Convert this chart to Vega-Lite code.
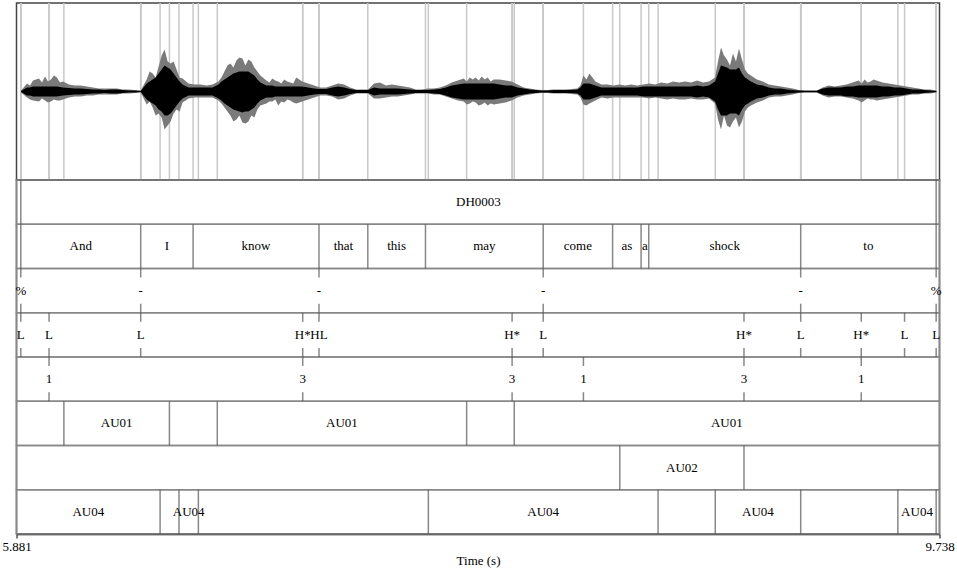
{
"$schema": "https://vega.github.io/schema/vega-lite/v6.json",
"padding": {"left": 0.5, "top": 1, "right": 0, "bottom": 0},
"spacing": 0,
"bounds": "flush",
"background": "white",
"config": {"view": {"stroke": null}, "font": "Liberation Serif", "text": {"font": "Liberation Serif", "fontSize": 13, "color": "#000"}},
"datasets": {
"tiers": [{"tier":"Utterance"},{"tier":"Words"},{"tier":"Breaks"},{"tier":"Tones"},{"tier":"Prominence"},{"tier":"AU01"},{"tier":"AU02"},{"tier":"AU04"}],
"intervals": [
{"tier":"Utterance","s":5.881,"e":5.899,"label":""},
{"tier":"Utterance","s":5.899,"e":9.724,"label":"DH0003"},
{"tier":"Utterance","s":9.724,"e":9.738,"label":""},
{"tier":"Words","s":5.881,"e":5.899,"label":""},
{"tier":"Words","s":5.899,"e":6.400,"label":"And"},
{"tier":"Words","s":6.400,"e":6.619,"label":"I"},
{"tier":"Words","s":6.619,"e":7.145,"label":"know"},
{"tier":"Words","s":7.145,"e":7.349,"label":"that"},
{"tier":"Words","s":7.349,"e":7.590,"label":"this"},
{"tier":"Words","s":7.590,"e":8.082,"label":"may"},
{"tier":"Words","s":8.082,"e":8.372,"label":"come"},
{"tier":"Words","s":8.372,"e":8.491,"label":"as"},
{"tier":"Words","s":8.491,"e":8.523,"label":"a"},
{"tier":"Words","s":8.523,"e":9.158,"label":"shock"},
{"tier":"Words","s":9.158,"e":9.724,"label":"to"},
{"tier":"Words","s":9.724,"e":9.738,"label":""},
{"tier":"AU01","s":5.881,"e":6.079,"label":""},
{"tier":"AU01","s":6.079,"e":6.520,"label":"AU01"},
{"tier":"AU01","s":6.520,"e":6.720,"label":""},
{"tier":"AU01","s":6.720,"e":7.762,"label":"AU01"},
{"tier":"AU01","s":7.762,"e":7.961,"label":""},
{"tier":"AU01","s":7.961,"e":9.738,"label":"AU01"},
{"tier":"AU02","s":5.881,"e":8.402,"label":""},
{"tier":"AU02","s":8.402,"e":8.921,"label":"AU02"},
{"tier":"AU02","s":8.921,"e":9.738,"label":""},
{"tier":"AU04","s":5.881,"e":6.481,"label":"AU04"},
{"tier":"AU04","s":6.481,"e":6.560,"label":""},
{"tier":"AU04","s":6.560,"e":6.641,"label":"AU04"},
{"tier":"AU04","s":6.641,"e":7.602,"label":""},
{"tier":"AU04","s":7.602,"e":8.562,"label":"AU04"},
{"tier":"AU04","s":8.562,"e":8.801,"label":""},
{"tier":"AU04","s":8.801,"e":9.158,"label":"AU04"},
{"tier":"AU04","s":9.158,"e":9.564,"label":""},
{"tier":"AU04","s":9.564,"e":9.724,"label":"AU04"},
{"tier":"AU04","s":9.724,"e":9.738,"label":""}
],
"points": [
{"tier":"Breaks","t":5.899,"label":"%"},
{"tier":"Breaks","t":6.400,"label":"-"},
{"tier":"Breaks","t":7.145,"label":"-"},
{"tier":"Breaks","t":8.082,"label":"-"},
{"tier":"Breaks","t":9.158,"label":"-"},
{"tier":"Breaks","t":9.724,"label":"%"},
{"tier":"Tones","t":5.899,"label":"L"},
{"tier":"Tones","t":6.017,"label":"L"},
{"tier":"Tones","t":6.400,"label":"L"},
{"tier":"Tones","t":7.077,"label":"H*"},
{"tier":"Tones","t":7.145,"label":"HL"},
{"tier":"Tones","t":7.952,"label":"H*"},
{"tier":"Tones","t":8.082,"label":"L"},
{"tier":"Tones","t":8.921,"label":"H*"},
{"tier":"Tones","t":9.158,"label":"L"},
{"tier":"Tones","t":9.411,"label":"H*"},
{"tier":"Tones","t":9.592,"label":"L"},
{"tier":"Tones","t":9.724,"label":"L"},
{"tier":"Prominence","t":6.017,"label":"1"},
{"tier":"Prominence","t":7.077,"label":"3"},
{"tier":"Prominence","t":7.952,"label":"3"},
{"tier":"Prominence","t":8.250,"label":"1"},
{"tier":"Prominence","t":8.921,"label":"3"},
{"tier":"Prominence","t":9.411,"label":"1"}
],
"wave": [
{"t":5.900,"hi":1,"lo":-1,"ihi":0.5,"ilo":-0.5},
{"t":5.925,"hi":8,"lo":-6,"ihi":4,"ilo":-4},
{"t":5.9375,"hi":6,"lo":-8,"ihi":4,"ilo":-4},
{"t":5.950,"hi":11,"lo":-9,"ihi":5,"ilo":-5},
{"t":5.975,"hi":13,"lo":-10,"ihi":5,"ilo":-5},
{"t":5.9875,"hi":9,"lo":-7,"ihi":5,"ilo":-5},
{"t":6.000,"hi":15,"lo":-9,"ihi":5,"ilo":-5},
{"t":6.0125,"hi":10,"lo":-11,"ihi":5,"ilo":-5},
{"t":6.025,"hi":12,"lo":-10,"ihi":5,"ilo":-5},
{"t":6.0375,"hi":16,"lo":-8,"ihi":5,"ilo":-5},
{"t":6.050,"hi":14,"lo":-9,"ihi":5,"ilo":-5},
{"t":6.0625,"hi":9,"lo":-9,"ihi":4.5,"ilo":-4.5},
{"t":6.075,"hi":10,"lo":-8,"ihi":4,"ilo":-4},
{"t":6.100,"hi":7,"lo":-6,"ihi":3.5,"ilo":-3.5},
{"t":6.125,"hi":6,"lo":-5,"ihi":3,"ilo":-3},
{"t":6.150,"hi":6,"lo":-5,"ihi":3,"ilo":-3},
{"t":6.175,"hi":5,"lo":-4,"ihi":2.5,"ilo":-2.5},
{"t":6.200,"hi":4,"lo":-4,"ihi":2,"ilo":-2},
{"t":6.225,"hi":3,"lo":-3,"ihi":2,"ilo":-2},
{"t":6.250,"hi":3,"lo":-3,"ihi":1.5,"ilo":-1.5},
{"t":6.275,"hi":3,"lo":-3,"ihi":2,"ilo":-2},
{"t":6.300,"hi":3,"lo":-3,"ihi":2,"ilo":-2},
{"t":6.325,"hi":2,"lo":-2,"ihi":1.5,"ilo":-1.5},
{"t":6.350,"hi":2,"lo":-2,"ihi":1,"ilo":-1},
{"t":6.375,"hi":1.5,"lo":-1.5,"ihi":1,"ilo":-1},
{"t":6.400,"hi":1,"lo":-1,"ihi":0.5,"ilo":-0.5},
{"t":6.425,"hi":12,"lo":-13,"ihi":8,"ilo":-8},
{"t":6.4375,"hi":20,"lo":-10,"ihi":10,"ilo":-10},
{"t":6.450,"hi":18,"lo":-16,"ihi":12,"ilo":-12},
{"t":6.4625,"hi":14,"lo":-24,"ihi":14,"ilo":-14},
{"t":6.475,"hi":25,"lo":-22,"ihi":18,"ilo":-18},
{"t":6.4875,"hi":36,"lo":-26,"ihi":22,"ilo":-20},
{"t":6.500,"hi":42,"lo":-38,"ihi":26,"ilo":-24},
{"t":6.5125,"hi":30,"lo":-34,"ihi":24,"ilo":-24},
{"t":6.525,"hi":28,"lo":-30,"ihi":22,"ilo":-22},
{"t":6.5375,"hi":30,"lo":-22,"ihi":18,"ilo":-18},
{"t":6.550,"hi":22,"lo":-18,"ihi":14,"ilo":-14},
{"t":6.5625,"hi":14,"lo":-20,"ihi":10,"ilo":-10},
{"t":6.575,"hi":13,"lo":-11,"ihi":7,"ilo":-7},
{"t":6.600,"hi":8,"lo":-7,"ihi":4,"ilo":-4},
{"t":6.625,"hi":7,"lo":-6,"ihi":4,"ilo":-4},
{"t":6.650,"hi":7,"lo":-6,"ihi":4,"ilo":-4},
{"t":6.675,"hi":6,"lo":-6,"ihi":4,"ilo":-4},
{"t":6.700,"hi":7,"lo":-6,"ihi":4,"ilo":-4},
{"t":6.725,"hi":10,"lo":-9,"ihi":7,"ilo":-7},
{"t":6.7375,"hi":14,"lo":-12,"ihi":10,"ilo":-9},
{"t":6.750,"hi":20,"lo":-16,"ihi":12,"ilo":-12},
{"t":6.7625,"hi":26,"lo":-20,"ihi":14,"ilo":-14},
{"t":6.775,"hi":28,"lo":-24,"ihi":16,"ilo":-16},
{"t":6.7875,"hi":24,"lo":-30,"ihi":18,"ilo":-18},
{"t":6.800,"hi":31,"lo":-28,"ihi":19,"ilo":-19},
{"t":6.8125,"hi":34,"lo":-24,"ihi":20,"ilo":-20},
{"t":6.825,"hi":33,"lo":-31,"ihi":20,"ilo":-21},
{"t":6.8375,"hi":26,"lo":-32,"ihi":20,"ilo":-20},
{"t":6.850,"hi":32,"lo":-30,"ihi":20,"ilo":-20},
{"t":6.8625,"hi":30,"lo":-24,"ihi":18,"ilo":-18},
{"t":6.875,"hi":24,"lo":-26,"ihi":16,"ilo":-16},
{"t":6.8875,"hi":20,"lo":-18,"ihi":12,"ilo":-12},
{"t":6.900,"hi":16,"lo":-14,"ihi":9,"ilo":-9},
{"t":6.925,"hi":11,"lo":-12,"ihi":6,"ilo":-6},
{"t":6.9375,"hi":9,"lo":-10,"ihi":6,"ilo":-6},
{"t":6.950,"hi":13,"lo":-10,"ihi":6,"ilo":-6},
{"t":6.9625,"hi":11,"lo":-8,"ihi":5,"ilo":-5},
{"t":6.975,"hi":10,"lo":-14,"ihi":5,"ilo":-5},
{"t":6.9875,"hi":8,"lo":-10,"ihi":5,"ilo":-5},
{"t":7.000,"hi":12,"lo":-11,"ihi":5,"ilo":-5},
{"t":7.0125,"hi":10,"lo":-8,"ihi":5,"ilo":-5},
{"t":7.025,"hi":9,"lo":-9,"ihi":5,"ilo":-5},
{"t":7.0375,"hi":8,"lo":-11,"ihi":5,"ilo":-5},
{"t":7.050,"hi":14,"lo":-12,"ihi":5,"ilo":-5},
{"t":7.075,"hi":10,"lo":-10,"ihi":5,"ilo":-5},
{"t":7.100,"hi":8,"lo":-8,"ihi":4,"ilo":-4},
{"t":7.125,"hi":6,"lo":-6,"ihi":3,"ilo":-3},
{"t":7.150,"hi":4,"lo":-4,"ihi":2.5,"ilo":-2.5},
{"t":7.175,"hi":4,"lo":-4,"ihi":2.5,"ilo":-2.5},
{"t":7.200,"hi":6,"lo":-5,"ihi":4,"ilo":-4},
{"t":7.225,"hi":8,"lo":-8,"ihi":5,"ilo":-5},
{"t":7.250,"hi":7,"lo":-7,"ihi":4,"ilo":-4},
{"t":7.275,"hi":4,"lo":-4,"ihi":2.5,"ilo":-2.5},
{"t":7.300,"hi":2,"lo":-2,"ihi":1.5,"ilo":-1.5},
{"t":7.325,"hi":2,"lo":-2,"ihi":1.5,"ilo":-1.5},
{"t":7.350,"hi":2,"lo":-2,"ihi":1.5,"ilo":-1.5},
{"t":7.375,"hi":8,"lo":-7,"ihi":4,"ilo":-4},
{"t":7.400,"hi":9,"lo":-7,"ihi":3,"ilo":-3},
{"t":7.425,"hi":6,"lo":-6,"ihi":3,"ilo":-3},
{"t":7.450,"hi":7,"lo":-5,"ihi":3,"ilo":-3},
{"t":7.475,"hi":6,"lo":-5,"ihi":3,"ilo":-3},
{"t":7.500,"hi":5,"lo":-4,"ihi":2.5,"ilo":-2.5},
{"t":7.525,"hi":4,"lo":-3,"ihi":2,"ilo":-2},
{"t":7.550,"hi":2,"lo":-2,"ihi":1.5,"ilo":-1.5},
{"t":7.575,"hi":2,"lo":-2,"ihi":1.5,"ilo":-1.5},
{"t":7.600,"hi":3,"lo":-2,"ihi":1.5,"ilo":-1.5},
{"t":7.625,"hi":3,"lo":-3,"ihi":2,"ilo":-2},
{"t":7.650,"hi":4,"lo":-3,"ihi":2.5,"ilo":-2.5},
{"t":7.675,"hi":6,"lo":-5,"ihi":4,"ilo":-4},
{"t":7.700,"hi":9,"lo":-7,"ihi":6,"ilo":-6},
{"t":7.725,"hi":11,"lo":-9,"ihi":7,"ilo":-7},
{"t":7.750,"hi":13,"lo":-10,"ihi":8,"ilo":-8},
{"t":7.7625,"hi":10,"lo":-13,"ihi":8,"ilo":-8},
{"t":7.775,"hi":14,"lo":-12,"ihi":8,"ilo":-8},
{"t":7.7875,"hi":12,"lo":-10,"ihi":8,"ilo":-8},
{"t":7.800,"hi":14,"lo":-11,"ihi":8,"ilo":-8},
{"t":7.8125,"hi":11,"lo":-14,"ihi":8,"ilo":-8},
{"t":7.825,"hi":15,"lo":-13,"ihi":8,"ilo":-8},
{"t":7.8375,"hi":12,"lo":-11,"ihi":8,"ilo":-8},
{"t":7.850,"hi":14,"lo":-14,"ihi":8,"ilo":-8},
{"t":7.8625,"hi":10,"lo":-12,"ihi":8,"ilo":-8},
{"t":7.875,"hi":12,"lo":-13,"ihi":8,"ilo":-8},
{"t":7.900,"hi":12,"lo":-12,"ihi":7,"ilo":-7},
{"t":7.925,"hi":11,"lo":-11,"ihi":6,"ilo":-6},
{"t":7.950,"hi":10,"lo":-9,"ihi":6,"ilo":-6},
{"t":7.975,"hi":7,"lo":-6,"ihi":4,"ilo":-4},
{"t":8.000,"hi":4,"lo":-4,"ihi":3,"ilo":-3},
{"t":8.025,"hi":3,"lo":-3,"ihi":2,"ilo":-2},
{"t":8.050,"hi":2,"lo":-2,"ihi":1.5,"ilo":-1.5},
{"t":8.075,"hi":1.5,"lo":-1.5,"ihi":1,"ilo":-1},
{"t":8.100,"hi":1.5,"lo":-1.5,"ihi":1,"ilo":-1},
{"t":8.125,"hi":2,"lo":-2,"ihi":1.5,"ilo":-1.5},
{"t":8.150,"hi":2,"lo":-2,"ihi":1.5,"ilo":-1.5},
{"t":8.175,"hi":2,"lo":-2,"ihi":1.5,"ilo":-1.5},
{"t":8.200,"hi":2.5,"lo":-2.5,"ihi":1.5,"ilo":-1.5},
{"t":8.225,"hi":3,"lo":-3,"ihi":2,"ilo":-2},
{"t":8.2375,"hi":6,"lo":-6,"ihi":4,"ilo":-4},
{"t":8.250,"hi":16,"lo":-13,"ihi":8,"ilo":-8},
{"t":8.2625,"hi":12,"lo":-14,"ihi":8,"ilo":-8},
{"t":8.275,"hi":18,"lo":-12,"ihi":8,"ilo":-8},
{"t":8.300,"hi":10,"lo":-9,"ihi":6,"ilo":-6},
{"t":8.325,"hi":7,"lo":-6,"ihi":4,"ilo":-4},
{"t":8.350,"hi":7,"lo":-7,"ihi":4,"ilo":-4},
{"t":8.375,"hi":6,"lo":-6,"ihi":4,"ilo":-4},
{"t":8.400,"hi":7,"lo":-6,"ihi":4,"ilo":-4},
{"t":8.425,"hi":6,"lo":-6,"ihi":4,"ilo":-4},
{"t":8.450,"hi":7,"lo":-6,"ihi":4,"ilo":-4},
{"t":8.475,"hi":6,"lo":-6,"ihi":4,"ilo":-4},
{"t":8.500,"hi":7,"lo":-6,"ihi":5,"ilo":-5},
{"t":8.525,"hi":8,"lo":-7,"ihi":5,"ilo":-5},
{"t":8.550,"hi":7,"lo":-6,"ihi":5,"ilo":-5},
{"t":8.575,"hi":9,"lo":-7,"ihi":5,"ilo":-5},
{"t":8.600,"hi":8,"lo":-8,"ihi":5,"ilo":-5},
{"t":8.625,"hi":10,"lo":-7,"ihi":5,"ilo":-5},
{"t":8.650,"hi":9,"lo":-8,"ihi":5,"ilo":-5},
{"t":8.675,"hi":10,"lo":-8,"ihi":5,"ilo":-5},
{"t":8.700,"hi":9,"lo":-7,"ihi":5,"ilo":-5},
{"t":8.725,"hi":11,"lo":-8,"ihi":6,"ilo":-6},
{"t":8.750,"hi":9,"lo":-8,"ihi":5,"ilo":-5},
{"t":8.775,"hi":10,"lo":-7,"ihi":6,"ilo":-6},
{"t":8.800,"hi":14,"lo":-12,"ihi":10,"ilo":-10},
{"t":8.8125,"hi":30,"lo":-28,"ihi":18,"ilo":-18},
{"t":8.825,"hi":44,"lo":-38,"ihi":26,"ilo":-24},
{"t":8.8375,"hi":36,"lo":-24,"ihi":25,"ilo":-24},
{"t":8.850,"hi":32,"lo":-34,"ihi":24,"ilo":-24},
{"t":8.8625,"hi":26,"lo":-36,"ihi":22,"ilo":-22},
{"t":8.875,"hi":38,"lo":-30,"ihi":22,"ilo":-22},
{"t":8.8875,"hi":30,"lo":-26,"ihi":22,"ilo":-22},
{"t":8.900,"hi":43,"lo":-36,"ihi":24,"ilo":-24},
{"t":8.9125,"hi":32,"lo":-30,"ihi":18,"ilo":-18},
{"t":8.925,"hi":22,"lo":-20,"ihi":14,"ilo":-14},
{"t":8.9375,"hi":18,"lo":-16,"ihi":12,"ilo":-12},
{"t":8.950,"hi":16,"lo":-14,"ihi":10,"ilo":-10},
{"t":8.975,"hi":12,"lo":-11,"ihi":7,"ilo":-7},
{"t":9.000,"hi":10,"lo":-9,"ihi":6,"ilo":-6},
{"t":9.025,"hi":7,"lo":-6,"ihi":4,"ilo":-4},
{"t":9.050,"hi":6,"lo":-5,"ihi":3,"ilo":-3},
{"t":9.075,"hi":5,"lo":-5,"ihi":3,"ilo":-3},
{"t":9.100,"hi":4,"lo":-4,"ihi":2,"ilo":-2},
{"t":9.125,"hi":3,"lo":-3,"ihi":1.5,"ilo":-1.5},
{"t":9.150,"hi":1.5,"lo":-1.5,"ihi":1,"ilo":-1},
{"t":9.175,"hi":1,"lo":-1,"ihi":0.7,"ilo":-0.7},
{"t":9.200,"hi":1,"lo":-1,"ihi":0.7,"ilo":-0.7},
{"t":9.225,"hi":1,"lo":-1,"ihi":0.7,"ilo":-0.7},
{"t":9.250,"hi":4,"lo":-4,"ihi":3,"ilo":-3},
{"t":9.275,"hi":6,"lo":-6,"ihi":4,"ilo":-4},
{"t":9.300,"hi":5,"lo":-5,"ihi":4,"ilo":-4},
{"t":9.325,"hi":6,"lo":-5,"ihi":4,"ilo":-4},
{"t":9.350,"hi":7,"lo":-6,"ihi":5,"ilo":-5},
{"t":9.375,"hi":9,"lo":-7,"ihi":5,"ilo":-5},
{"t":9.400,"hi":11,"lo":-9,"ihi":6,"ilo":-6},
{"t":9.4125,"hi":8,"lo":-11,"ihi":6,"ilo":-6},
{"t":9.425,"hi":12,"lo":-9,"ihi":6,"ilo":-6},
{"t":9.4375,"hi":9,"lo":-7,"ihi":6,"ilo":-6},
{"t":9.450,"hi":10,"lo":-8,"ihi":6,"ilo":-6},
{"t":9.4625,"hi":12,"lo":-8,"ihi":6,"ilo":-6},
{"t":9.475,"hi":11,"lo":-9,"ihi":6,"ilo":-6},
{"t":9.500,"hi":9,"lo":-8,"ihi":5,"ilo":-5},
{"t":9.525,"hi":8,"lo":-7,"ihi":5,"ilo":-5},
{"t":9.550,"hi":7,"lo":-6,"ihi":4,"ilo":-4},
{"t":9.575,"hi":6,"lo":-5,"ihi":4,"ilo":-4},
{"t":9.600,"hi":5,"lo":-4,"ihi":3,"ilo":-3},
{"t":9.625,"hi":4,"lo":-3,"ihi":2,"ilo":-2},
{"t":9.650,"hi":3,"lo":-3,"ihi":2,"ilo":-2},
{"t":9.675,"hi":2,"lo":-2,"ihi":1.5,"ilo":-1.5},
{"t":9.700,"hi":2,"lo":-2,"ihi":1,"ilo":-1},
{"t":9.725,"hi":1,"lo":-1,"ihi":0.5,"ilo":-0.5}
]
},
"vconcat": [
{
"width": 923, "height": 177,
"view": {"stroke": "#444", "strokeWidth": 1.5},
"layer": [
{"data": {"name": "intervals"}, "transform": [{"filter": "datum.s > 5.881"}],
 "mark": {"type": "rule", "color": "#c8c8c8", "strokeWidth": 1.5},
 "encoding": {"x": {"field": "s", "type": "quantitative", "scale": {"domain": [5.881, 9.738], "nice": false, "zero": false}, "axis": null}}},
{"data": {"name": "points"},
 "mark": {"type": "rule", "color": "#c8c8c8", "strokeWidth": 1.5},
 "encoding": {"x": {"field": "t", "type": "quantitative"}}},
{"data": {"name": "wave"},
 "mark": {"type": "area", "color": "#7a7a7a"},
 "encoding": {"x": {"field": "t", "type": "quantitative"},
  "y": {"field": "hi", "type": "quantitative", "scale": {"domain": [-88.5, 88.5], "nice": false, "zero": false}, "axis": null},
  "y2": {"field": "lo"}}},
{"data": {"name": "wave"},
 "mark": {"type": "area", "color": "#000"},
 "encoding": {"x": {"field": "t", "type": "quantitative"},
  "y": {"field": "ihi", "type": "quantitative"},
  "y2": {"field": "ilo"}}}
]
},
{
"width": 923, "height": 354,
"view": {"stroke": "#333", "strokeWidth": 1.5},
"layer": [
{"data": {"name": "tiers"},
 "mark": {"type": "rect", "fill": "transparent", "stroke": "#888", "strokeWidth": 1.5},
 "encoding": {"y": {"field": "tier", "type": "nominal", "scale": {"domain": ["Utterance","Words","Breaks","Tones","Prominence","AU01","AU02","AU04"], "paddingInner": 0, "paddingOuter": 0}, "axis": null}}},
{"data": {"name": "intervals"}, "transform": [{"filter": "datum.s > 5.881"}],
 "mark": {"type": "tick", "color": "#555", "thickness": 1.5, "size": 44.25, "orient": "vertical"},
 "encoding": {
  "x": {"field": "s", "type": "quantitative", "scale": {"domain": [5.881, 9.738], "nice": false, "zero": false},
   "axis": {"values": [5.881, 9.738], "format": ".3f", "labelFlush": false, "grid": false, "labelFont": "Liberation Serif", "labelFontSize": 13, "labelColor": "#000", "tickColor": "#000", "tickSize": 4, "domainColor": "#000", "domainWidth": 1.5, "labelPadding": 2, "title": "Time (s)", "titleFont": "Liberation Serif", "titleFontSize": 13, "titleFontWeight": "normal", "titleColor": "#000", "titlePadding": 1}},
  "y": {"field": "tier", "type": "nominal"}}},
{"data": {"name": "intervals"}, "transform": [{"filter": "datum.label != ''"}, {"fold": ["s", "e"], "as": ["k", "v"]}],
 "mark": {"type": "text", "fontSize": 13, "font": "Liberation Serif", "color": "#000"},
 "encoding": {"x": {"aggregate": "mean", "field": "v", "type": "quantitative"}, "y": {"field": "tier", "type": "nominal"}, "text": {"field": "label"}, "detail": {"field": "s"}}},
{"data": {"name": "points"},
 "mark": {"type": "tick", "color": "#555", "thickness": 1.5, "size": 9, "orient": "vertical", "yOffset": -17.6},
 "encoding": {"x": {"field": "t", "type": "quantitative"}, "y": {"field": "tier", "type": "nominal"}}},
{"data": {"name": "points"},
 "mark": {"type": "tick", "color": "#555", "thickness": 1.5, "size": 9, "orient": "vertical", "yOffset": 17.6},
 "encoding": {"x": {"field": "t", "type": "quantitative"}, "y": {"field": "tier", "type": "nominal"}}},
{"data": {"name": "points"},
 "mark": {"type": "text", "fontSize": 13, "font": "Liberation Serif", "color": "#000"},
 "encoding": {"x": {"field": "t", "type": "quantitative"}, "y": {"field": "tier", "type": "nominal"}, "text": {"field": "label"}}}
]
}
]
}
